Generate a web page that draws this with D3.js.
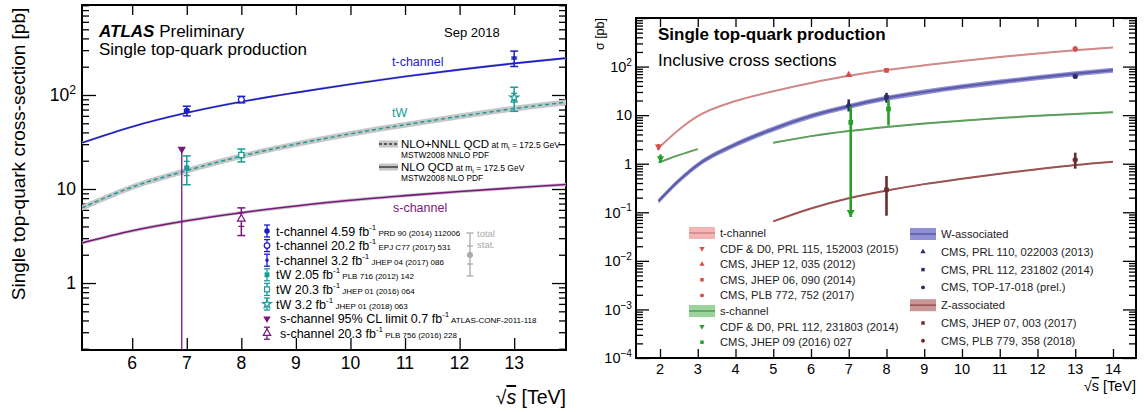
<!DOCTYPE html>
<html>
<head>
<meta charset="utf-8">
<script src="https://cdn.jsdelivr.net/npm/d3@7"></script>
<style>
  body { margin: 0; background: #fff; }
  svg { display: block; font-family: "Liberation Sans", Arial, sans-serif; }
</style>
</head>
<body>
<svg id="chart" width="1145" height="412"></svg>
<script>
// ---- left: ATLAS summary ----
const atlasTheoryE = [5.08, 6, 7, 8, 9, 10, 11, 12, 13, 14];
const atlasTchTheory = [31, 46, 64.6, 84.7, 106, 130, 157, 186, 217, 248];
const atlasTwTheory = [6.3, 10.5, 15.7, 22.4, 30.0, 38.7, 48.2, 59.3, 71.7, 84.4];
const atlasSchTheory = [2.67, 3.6, 4.6, 5.6, 6.6, 7.6, 8.5, 9.4, 10.3, 11.2];
const atlasTheoryUnc = [0.03, 0.07, 0.04]; // relative half width of band: t, tW, s

const atlasMeasLabel = ["t-channel 4.59 fb", "t-channel 20.2 fb", "t-channel 3.2 fb", "tW 2.05 fb", "tW 20.3 fb", "tW 3.2 fb", "s-channel 95% CL limit 0.7 fb", "s-channel 20.3 fb"];
const atlasMeasRef = ["PRD 90 (2014) 112006", "EPJ C77 (2017) 531", "JHEP 04 (2017) 086", "PLB 716 (2012) 142", "JHEP 01 (2016) 064", "JHEP 01 (2018) 063", "ATLAS-CONF-2011-118", "PLB 756 (2016) 228"];
const atlasMeasE = [7, 8, 13, 7, 8, 13, 7, 8];
const atlasMeasV = [68, 89.6, 247, 16.8, 23.0, 94, 26.5, 4.8];
const atlasTotLo = [60, 82.5, 201, 11.1, 19.4, 67, null, 3.2];
const atlasTotHi = [76, 96.7, 293, 22.5, 26.6, 121, null, 6.3];
const atlasStatLo = [66, 88.9, 241, 13.9, 21.7, 84, null, 4.0];
const atlasStatHi = [70, 90.3, 253, 19.7, 24.3, 104, null, 5.6];

// ---- right: CMS summary ----
const cmsTchE = [1.96, 2.5, 3, 4, 5, 6, 7, 8, 9, 10, 11, 12, 13, 14];
const cmsTchTheory = [2.1, 5.0, 9.5, 19.5, 31, 46, 64.6, 84.7, 106, 130, 157, 186, 217, 248];
const cmsTwE = [1.96, 2.5, 3, 4, 5, 6, 7, 8, 9, 10, 11, 12, 13, 14];
const cmsTwTheory = [0.17, 0.45, 0.95, 2.5, 5.2, 9.6, 15.2, 22.4, 30, 38.7, 48.2, 59.3, 71.7, 84.4];
const cmsSchTevE = [1.96, 2.5, 3];
const cmsSchTevTheory = [1.05, 1.5, 2.0];
const cmsSchLhcE = [5, 6, 7, 8, 9, 10, 11, 12, 13, 14];
const cmsSchLhcTheory = [2.7, 3.7, 4.7, 5.7, 6.7, 7.7, 8.7, 9.7, 10.6, 11.5];
const cmsTzE = [5, 6, 7, 8, 9, 10, 11, 12, 13, 14];
const cmsTzTheory = [0.065, 0.12, 0.195, 0.28, 0.38, 0.49, 0.62, 0.77, 0.94, 1.1];

const cmsTchMeasE = [1.96, 7, 8, 13];
const cmsTchMeasV = [2.25, 67.2, 83.6, 232];
const cmsTchMeasLo = [1.94, 61.1, 75.9, 202];
const cmsTchMeasHi = [2.54, 73.3, 91.3, 262];
const cmsSchMeasE = [1.96, 7, 8];
const cmsSchMeasV = [1.29, 7.1, 13.4];
const cmsSchMeasLo = [1.05, 0.08, 6.1];
const cmsSchMeasHi = [1.55, 15.2, 20.7];
const cmsTwMeasE = [7, 8, 13];
const cmsTwMeasV = [16, 23.4, 63.1];
const cmsTwMeasLo = [11.9, 18.0, 56.5];
const cmsTwMeasHi = [21.1, 28.8, 69.7];
const cmsTzMeasE = [8, 13];
const cmsTzMeasV = [0.29, 1.2];
const cmsTzMeasLo = [0.085, 0.79];
const cmsTzMeasHi = [0.56, 1.69];

const cmsLegendLeft = [
  ["band", "t-channel"], ["down", "CDF & D0, PRL 115, 152003 (2015)"], ["up", "CMS, JHEP 12, 035 (2012)"],
  ["square", "CMS, JHEP 06, 090 (2014)"], ["circle", "CMS, PLB 772, 752 (2017)"],
  ["band", "s-channel"], ["down", "CDF & D0, PRL 112, 231803 (2014)"], ["square", "CMS, JHEP 09 (2016) 027"],
];
const cmsLegendRight = [
  ["band", "W-associated"], ["up", "CMS, PRL 110, 022003 (2013)"], ["square", "CMS, PRL 112, 231802 (2014)"],
  ["circle", "CMS, TOP-17-018 (prel.)"], ["band", "Z-associated"], ["square", "CMS, JHEP 07, 003 (2017)"],
  ["circle", "CMS, PLB 779, 358 (2018)"],
];

const svg = d3.select("#chart");
const L = { left: 82, right: 566, top: 5, bottom: 350 };
const R = { left: 636, right: 1136, top: 18, bottom: 358 };

const xL = d3.scaleLinear().domain([5.08, 13.95]).range([L.left, L.right]);
const yL = d3.scaleLog().domain([0.194, 906]).range([L.bottom, L.top]);
const xR = d3.scaleLinear().domain([1.364, 14.61]).range([R.left, R.right]);
const yR = d3.scaleLog().domain([1e-4, 1e3]).range([R.bottom, R.top]);

const isDecade = (v) => Math.abs(Math.log10(v) - Math.round(Math.log10(v))) < 1e-9;

const makeClip = (id, box) => {
  svg.append("clipPath").attr("id", id).append("rect")
    .attr("x", box.left).attr("y", box.top)
    .attr("width", box.right - box.left).attr("height", box.bottom - box.top);
};
makeClip("clipL", L);
makeClip("clipR", R);

const drawAxes = (box, x, y, o) => {
  const g = svg.append("g");
  const decades = y.ticks().filter(isDecade);
  const minors = y.ticks().filter((v) => !isDecade(v));
  const xt = d3.range(Math.ceil(x.domain()[0]), Math.floor(x.domain()[1]) + 1);
  const style = (sel) => {
    sel.select(".domain").remove();
    sel.selectAll("line").attr("stroke", "#000").attr("stroke-width", 1.3);
  };
  const put = (axis, tx, ty) =>
    g.append("g").attr("transform", `translate(${tx},${ty})`).call(axis).call(style);
  put(d3.axisLeft(y).tickValues(decades).tickSize(-o.yMajor).tickFormat(""), box.left, 0);
  put(d3.axisLeft(y).tickValues(minors).tickSize(-o.yMinor).tickFormat(""), box.left, 0);
  put(d3.axisRight(y).tickValues(decades).tickSize(-o.yMajor).tickFormat(""), box.right, 0);
  put(d3.axisRight(y).tickValues(minors).tickSize(-o.yMinor).tickFormat(""), box.right, 0);
  put(d3.axisBottom(x).tickValues(xt).tickSize(-o.xBottom).tickFormat(""), 0, box.bottom);
  put(d3.axisTop(x).tickValues(xt).tickSize(-o.xTop).tickFormat(""), 0, box.top);
  g.append("rect").attr("x", box.left).attr("y", box.top)
    .attr("width", box.right - box.left).attr("height", box.bottom - box.top)
    .attr("fill", "none").attr("stroke", "#000").attr("stroke-width", 2);

  g.selectAll(".xl").data(xt).enter().append("text")
    .attr("x", (d) => x(d)).attr("y", o.xLabelY)
    .attr("text-anchor", "middle").attr("font-size", o.font).text((d) => d);

  decades.filter((d) => d < y.domain()[1] * 0.99).forEach((d) => {
    const p = Math.round(Math.log10(d));
    const t = g.append("text").attr("x", o.yLabelX).attr("y", y(d) + o.font * 0.36)
      .attr("text-anchor", "end").attr("font-size", o.font);
    if (p === 0) t.text("1");
    else if (p === 1) t.text("10");
    else {
      t.append("tspan").text("10");
      t.append("tspan").attr("dy", -o.font * 0.42).attr("font-size", o.font * 0.7)
        .text(p < 0 ? "\u2212" + -p : p);
    }
  });
};

drawAxes(L, xL, yL, { yMajor: 14, yMinor: 7, xBottom: 12, xTop: 10, xLabelY: 369, yLabelX: 76, font: 17.5 });
drawAxes(R, xR, yR, { yMajor: 13, yMinor: 7, xBottom: 9, xTop: 9, xLabelY: 374, yLabelX: 632, font: 14.5 });

// ---------- helpers ----------
const symbolOf = { circle: d3.symbolCircle, square: d3.symbolSquare, up: d3.symbolTriangle, down: d3.symbolTriangle, star: d3.symbolStar, dot: d3.symbolCircle };

const makeMarker = (g, type, cx, cy, size, color, filled) => {
  g.append("path").attr("d", d3.symbol(symbolOf[type], size)())
    .attr("transform", `translate(${cx},${cy})${type === "down" ? " rotate(180)" : ""}`)
    .attr("fill", filled ? color : "#fff")
    .attr("stroke", color).attr("stroke-width", filled ? 0 : 1.2);
};

const makeBand = (g, x, y, es, vs, unc, fill) => {
  const rows = es.map((e, i) => ({ e, v: vs[i] }));
  g.append("path").datum(rows).attr("fill", fill)
    .attr("d", d3.area().curve(d3.curveMonotoneX).x((d) => x(d.e))
      .y0((d) => y(d.v * (1 - unc))).y1((d) => y(d.v * (1 + unc))));
};

const makeLine = (g, x, y, es, vs, color, width, dash) => {
  const rows = es.map((e, i) => ({ e, v: vs[i] }));
  g.append("path").datum(rows).attr("fill", "none")
    .attr("stroke", color).attr("stroke-width", width)
    .attr("stroke-dasharray", dash || null)
    .attr("d", d3.line().curve(d3.curveMonotoneX).x((d) => x(d.e)).y((d) => y(d.v)));
};

const hLine = (g, x1, x2, yy, color, w) =>
  g.append("line").attr("x1", x1).attr("x2", x2).attr("y1", yy).attr("y2", yy)
    .attr("stroke", color).attr("stroke-width", w);
const vLine = (g, xx, y1, y2, color, w) =>
  g.append("line").attr("x1", xx).attr("x2", xx).attr("y1", y1).attr("y2", y2)
    .attr("stroke", color).attr("stroke-width", w);

// ---------- left panel content ----------
const tColor = "#1c1cc8";
const twColor = "#189c98";
const sColor = "#7a177a";
const bandGrey = "#c6c6c6";

const gL = svg.append("g").attr("clip-path", "url(#clipL)");
makeBand(gL, xL, yL, atlasTheoryE, atlasTchTheory, atlasTheoryUnc[0], bandGrey);
makeBand(gL, xL, yL, atlasTheoryE, atlasTwTheory, atlasTheoryUnc[1], bandGrey);
makeBand(gL, xL, yL, atlasTheoryE, atlasSchTheory, atlasTheoryUnc[2], bandGrey);
makeLine(gL, xL, yL, atlasTheoryE, atlasTchTheory, tColor, 1.6);
makeLine(gL, xL, yL, atlasTheoryE, atlasTwTheory, twColor, 1.5, "4,3");
makeLine(gL, xL, yL, atlasTheoryE, atlasSchTheory, sColor, 1.6);

const atlasStyle = [
  { c: tColor, m: "circle", f: true }, { c: tColor, m: "circle", f: false }, { c: tColor, m: "dot", f: true },
  { c: twColor, m: "square", f: true }, { c: twColor, m: "square", f: false }, { c: twColor, m: "star", f: false },
  { c: sColor, m: "down", f: true, dx: -5 }, { c: sColor, m: "up", f: false },
];

atlasMeasE.forEach((e, i) => {
  const st = atlasStyle[i];
  const cx = xL(e) + (st.dx || 0);
  const cy = yL(atlasMeasV[i]);
  if (atlasTotLo[i] === null) {
    vLine(gL, cx, cy, L.bottom, st.c, 1.3);
    makeMarker(gL, "down", cx, cy, 30, st.c, true);
    return;
  }
  const y1 = yL(atlasTotHi[i]), y2 = yL(atlasTotLo[i]);
  vLine(gL, cx, y1, y2, st.c, 1.5);
  hLine(gL, cx - 4, cx + 4, y1, st.c, 1.5);
  hLine(gL, cx - 4, cx + 4, y2, st.c, 1.5);
  hLine(gL, cx - 3, cx + 3, yL(atlasStatHi[i]), st.c, 1.3);
  hLine(gL, cx - 3, cx + 3, yL(atlasStatLo[i]), st.c, 1.3);
  makeMarker(gL, st.m, cx, cy, st.m === "dot" ? 10 : 26, st.c, st.f);
});

// texts in left panel
const atl = svg.append("text").attr("x", 99).attr("y", 37).attr("font-size", 17);
atl.append("tspan").attr("font-weight", "bold").attr("font-style", "italic").text("ATLAS");
atl.append("tspan").text(" Preliminary");
svg.append("text").attr("x", 99).attr("y", 55).attr("font-size", 17).text("Single top-quark production");
svg.append("text").attr("x", 444).attr("y", 37).attr("font-size", 13).text("Sep 2018");
svg.append("text").attr("x", 392).attr("y", 66).attr("font-size", 12.5).attr("fill", tColor).text("t-channel");
svg.append("text").attr("x", 392).attr("y", 117).attr("font-size", 12.5).attr("fill", twColor).text("tW");
svg.append("text").attr("x", 393).attr("y", 212).attr("font-size", 12.5).attr("fill", sColor).text("s-channel");

svg.append("text").attr("transform", "translate(25,154) rotate(-90)")
  .attr("text-anchor", "middle").attr("font-size", 19).text("Single top-quark cross-section [pb]");

const sq = svg.append("text").attr("x", 566).attr("y", 404).attr("text-anchor", "end").attr("font-size", 19.5);
sq.append("tspan").text("\u221A");
sq.append("tspan").attr("font-style", "italic").attr("text-decoration", "overline").text("s");
sq.append("tspan").text(" [TeV]");

// theory legend
const theoryLegend = [
  ["NLO+NNLL QCD", "MSTW2008 NNLO PDF", "3,2"],
  ["NLO QCD", "MSTW2008 NLO PDF", null],
];
theoryLegend.forEach((row, i) => {
  const yy = 144 + i * 23;
  svg.append("rect").attr("x", 379).attr("y", yy - 3.5).attr("width", 19).attr("height", 7).attr("fill", bandGrey);
  svg.append("line").attr("x1", 379).attr("x2", 398).attr("y1", yy).attr("y2", yy)
    .attr("stroke", "#333").attr("stroke-width", 1.4).attr("stroke-dasharray", row[2]);
  const t = svg.append("text").attr("x", 401).attr("y", yy + 4).attr("font-size", 11.5);
  t.append("tspan").text(row[0]);
  t.append("tspan").attr("font-size", 8.5).text(" at m");
  t.append("tspan").attr("font-size", 6).attr("dy", 2).text("t");
  t.append("tspan").attr("font-size", 8.5).attr("dy", -2).text(" = 172.5 GeV");
  svg.append("text").attr("x", 401).attr("y", yy + 14).attr("font-size", 8.3).text(row[1]);
});

// measurement legend
atlasMeasLabel.forEach((lab, i) => {
  const st = atlasStyle[i];
  const yy = 231 + i * 14.6;
  const mx = 267;
  if (i !== 6) {
    vLine(svg, mx, yy - 6, yy + 6, st.c, 1.3);
    hLine(svg, mx - 3, mx + 3, yy - 6, st.c, 1.3);
    hLine(svg, mx - 3, mx + 3, yy + 6, st.c, 1.3);
  }
  makeMarker(svg, i === 6 ? "down" : st.m, mx, yy, st.m === "dot" ? 10 : 24, st.c, st.f);
  const t = svg.append("text").attr("x", i >= 6 ? 280 : 276).attr("y", yy + 4.5).attr("font-size", 12.5);
  t.append("tspan").text(lab);
  t.append("tspan").attr("font-size", 8).attr("dy", -6).text("-1");
  t.append("tspan").attr("font-size", 8).attr("dy", 6).text(" " + atlasMeasRef[i]);
});

// total / stat key
const kx = 470;
vLine(svg, kx, 233, 276, "#aaa", 1.3);
hLine(svg, kx - 3.5, kx + 3.5, 233, "#aaa", 1.3);
hLine(svg, kx - 3.5, kx + 3.5, 276, "#aaa", 1.3);
hLine(svg, kx - 3, kx + 3, 246, "#aaa", 1.3);
hLine(svg, kx - 3, kx + 3, 264, "#aaa", 1.3);
svg.append("circle").attr("cx", kx).attr("cy", 255).attr("r", 3).attr("fill", "#aaa");
svg.append("text").attr("x", 477).attr("y", 237).attr("font-size", 9.5).attr("fill", "#aaa").text("total");
svg.append("text").attr("x", 477).attr("y", 248).attr("font-size", 9.5).attr("fill", "#aaa").text("stat.");

// ---------- right panel content ----------
const cms = {
  t: { band: "#f4b4b4", line: "#d08a8a", mark: "#d94c4c" },
  s: { band: "#9ad49a", line: "#5c9e5c", mark: "#27a027" },
  w: { band: "#9090d4", line: "#5c5ca8", mark: "#2c2c6c" },
  z: { band: "#c99595", line: "#9a5454", mark: "#6c2c2c" },
};

const gR = svg.append("g").attr("clip-path", "url(#clipR)");
makeBand(gR, xR, yR, cmsTwE, cmsTwTheory, 0.12, cms.w.band);
makeLine(gR, xR, yR, cmsTwE, cmsTwTheory, cms.w.line, 2.2);
makeBand(gR, xR, yR, cmsTchE, cmsTchTheory, 0.03, cms.t.band);
makeLine(gR, xR, yR, cmsTchE, cmsTchTheory, cms.t.line, 2);
makeBand(gR, xR, yR, cmsSchTevE, cmsSchTevTheory, 0.03, cms.s.band);
makeLine(gR, xR, yR, cmsSchTevE, cmsSchTevTheory, cms.s.line, 2);
makeBand(gR, xR, yR, cmsSchLhcE, cmsSchLhcTheory, 0.03, cms.s.band);
makeLine(gR, xR, yR, cmsSchLhcE, cmsSchLhcTheory, cms.s.line, 2);
makeBand(gR, xR, yR, cmsTzE, cmsTzTheory, 0.03, cms.z.band);
makeLine(gR, xR, yR, cmsTzE, cmsTzTheory, cms.z.line, 2);

const makeCmsPoints = (es, vs, lo, hi, marks, color, dx, arrow) => {
  es.forEach((e, i) => {
    const cx = xR(e) + dx;
    vLine(gR, cx, yR(hi[i]), yR(lo[i]), color, 2.6);
    if (arrow && arrow[i]) {
      const yb = yR(lo[i]);
      gR.append("path").attr("d", `M${cx - 4},${yb - 7}L${cx + 4},${yb - 7}L${cx},${yb}Z`).attr("fill", color);
    }
    makeMarker(gR, marks[i], cx, yR(vs[i]), 22, color, true);
  });
};
makeCmsPoints(cmsTwMeasE, cmsTwMeasV, cmsTwMeasLo, cmsTwMeasHi, ["up", "square", "circle"], cms.w.mark, 0);
makeCmsPoints(cmsTchMeasE, cmsTchMeasV, cmsTchMeasLo, cmsTchMeasHi, ["down", "up", "square", "circle"], cms.t.mark, 0);
makeCmsPoints(cmsSchMeasE, cmsSchMeasV, cmsSchMeasLo, cmsSchMeasHi, ["down", "square", "square"], cms.s.mark, 2, [false, true, false]);
makeCmsPoints(cmsTzMeasE, cmsTzMeasV, cmsTzMeasLo, cmsTzMeasHi, ["square", "circle"], cms.z.mark, 0);

svg.append("text").attr("x", 658).attr("y", 40).attr("font-size", 17).attr("font-weight", "bold").text("Single top-quark production");
svg.append("text").attr("x", 658).attr("y", 66).attr("font-size", 17).text("Inclusive cross sections");
svg.append("text").attr("transform", "translate(604,18) rotate(-90)").attr("text-anchor", "end")
  .attr("font-size", 12.5).text("\u03C3 [pb]");
const sqR = svg.append("text").attr("x", 1136).attr("y", 391).attr("text-anchor", "end").attr("font-size", 14.5);
sqR.append("tspan").text("\u221A");
sqR.append("tspan").attr("text-decoration", "overline").text("s");
sqR.append("tspan").text(" [TeV]");

const makeCmsLegend = (rows, x0, y0, step, groups) => {
  let gi = -1;
  rows.forEach((row, i) => {
    const yy = y0 + i * step;
    if (row[0] === "band") gi++;
    const c = cms[groups[gi]];
    if (row[0] === "band") {
      svg.append("rect").attr("x", x0).attr("y", yy - 6).attr("width", 26).attr("height", 12).attr("fill", c.band);
      hLine(svg, x0, x0 + 26, yy, c.line, 1.6);
    } else {
      makeMarker(svg, row[0], x0 + 13, yy, 12, c.mark, true);
    }
    svg.append("text").attr("x", x0 + 31).attr("y", yy + 4).attr("font-size", 11.2).attr("fill", "#222").text(row[1]);
  });
};
makeCmsLegend(cmsLegendLeft, 689, 233, 15.6, ["t", "s"]);
makeCmsLegend(cmsLegendRight, 910, 234, 17.8, ["w", "z"]);
</script>
</body>
</html>
